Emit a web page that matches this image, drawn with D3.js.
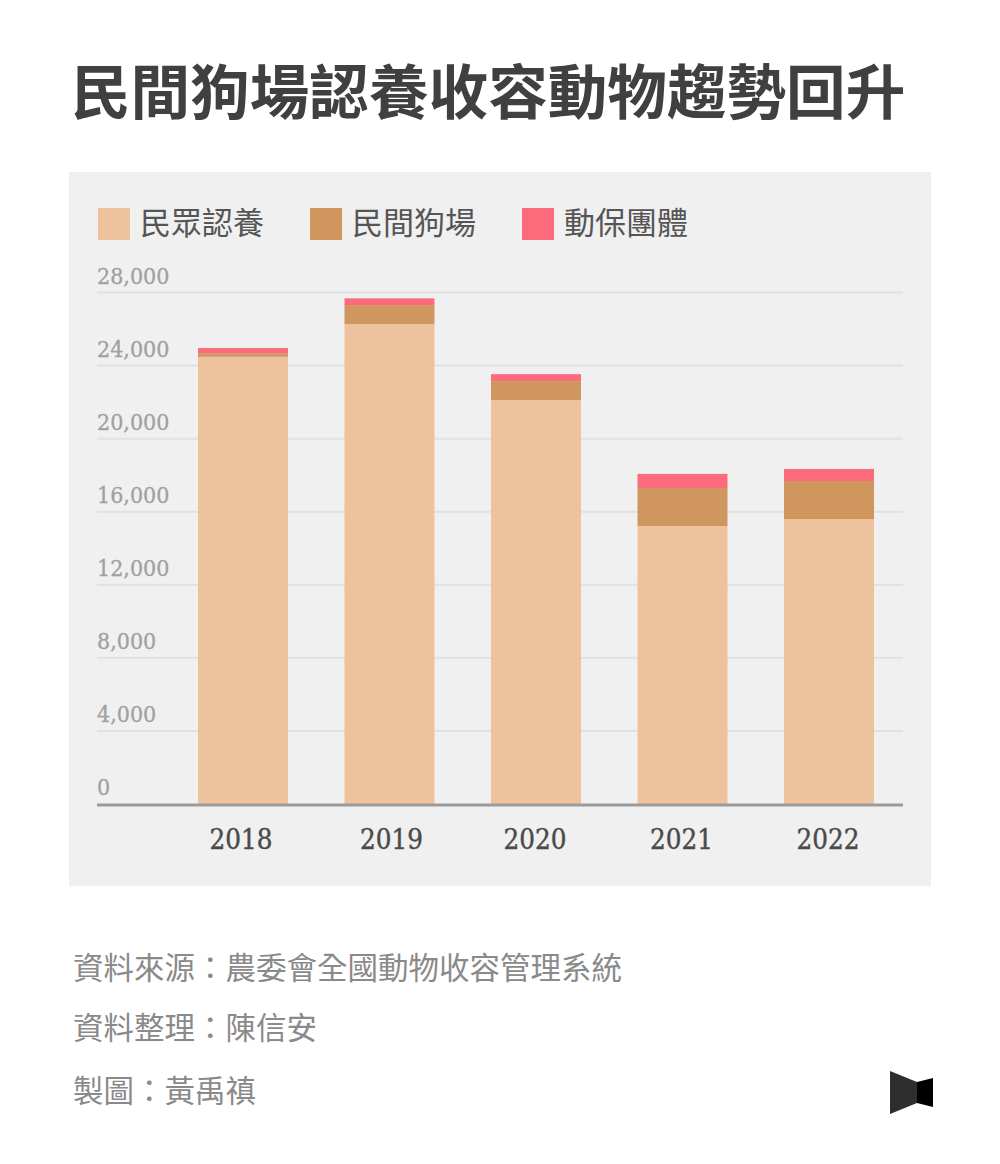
<!DOCTYPE html>
<html>
<head>
<meta charset="utf-8">
<script src="https://cdn.jsdelivr.net/npm/d3@7"></script>
<style>
  html, body { margin: 0; padding: 0; background: #fff; }
  svg { display: block; }
</style>
</head>
<body>
<svg id="chart"></svg>
<script>
const years = ["2018", "2019", "2020", "2021", "2022"];
const seriesNames = ["民眾認養", "民間狗場", "動保團體"];
const adopted = [24480, 26270, 22110, 15220, 15600];
const shelters = [190, 1040, 1040, 2080, 2080];
const ngos = [290, 370, 380, 770, 660];
const yTicks = [0, 4000, 8000, 12000, 16000, 20000, 24000, 28000];
const seriesColors = ["#edc29c", "#cf965d", "#fb6b7b"];
const sources = ["資料來源：農委會全國動物收容管理系統", "資料整理：陳信安", "製圖：黃禹禛"];
const title = "民間狗場認養收容動物趨勢回升";

const width = 1000, height = 1164;
const cjk = "'Noto Sans CJK TC', sans-serif";
const slab = "'DejaVu Serif Condensed', 'DejaVu Serif', serif";

const svg = d3.select("#chart")
    .attr("width", width)
    .attr("height", height)
    .attr("viewBox", [0, 0, width, height]);

svg.append("rect").attr("width", width).attr("height", height).attr("fill", "#fff");

svg.append("text")
    .attr("x", 71).attr("y", 114)
    .attr("font-family", cjk).attr("font-size", 59.6).attr("font-weight", 700)
    .attr("fill", "#404040")
    .text(title);

// panel
svg.append("rect")
    .attr("x", 69).attr("y", 172).attr("width", 862).attr("height", 714)
    .attr("fill", "#f0f0f0");

// legend
const legendX = [98, 310, 522];
const legend = svg.append("g").selectAll("g")
    .data(seriesNames)
    .join("g")
    .attr("transform", (d, i) => `translate(${legendX[i]}, 208)`);
legend.append("rect")
    .attr("width", 32).attr("height", 32)
    .attr("fill", (d, i) => seriesColors[i]);
legend.append("text")
    .attr("x", 42).attr("y", 26)
    .attr("font-family", cjk).attr("font-size", 31)
    .attr("fill", "#555")
    .text(d => d);

// scales
const y = d3.scaleLinear().domain([0, 28000]).range([804, 292.5]);
const x = d3.scaleBand().domain(years).range([198, 874]).paddingInner(0.386).paddingOuter(0);

// grid lines + y labels
const grid = svg.append("g").selectAll("g")
    .data(yTicks)
    .join("g")
    .attr("transform", d => `translate(0, ${y(d)})`);
grid.filter(d => d !== 0).append("line")
    .attr("x1", 97).attr("x2", 903)
    .attr("stroke", "#e1e1e1").attr("stroke-width", 2);
grid.append("text")
    .attr("x", 97).attr("y", -9)
    .attr("font-family", slab).attr("font-size", 23)
    .attr("fill", "#a0a0a0").attr("stroke", "#a0a0a0").attr("stroke-width", 0.3)
    .text(d => d3.format(",")(d));

// stacked bars
const rows = years.map((year, i) => ({year, a: adopted[i], b: shelters[i], c: ngos[i]}));
const stack = d3.stack().keys(["a", "b", "c"])(rows);

svg.append("g").selectAll("g")
    .data(stack)
    .join("g")
    .attr("fill", (d, i) => seriesColors[i])
    .selectAll("rect")
    .data(d => d)
    .join("rect")
    .attr("x", d => x(d.data.year))
    .attr("y", d => y(d[1]))
    .attr("width", x.bandwidth())
    .attr("height", d => y(d[0]) - y(d[1]));

// baseline
svg.append("line")
    .attr("x1", 97).attr("x2", 903)
    .attr("y1", y(0) + 1).attr("y2", y(0) + 1)
    .attr("stroke", "#9b9b9b").attr("stroke-width", 3);

// year labels, nudged like the original artwork
const labelShift = [-2, 2, -1, -1, -1];
svg.append("g").selectAll("text")
    .data(years)
    .join("text")
    .attr("x", (d, i) => x(d) + x.bandwidth() / 2 + labelShift[i])
    .attr("y", 849)
    .attr("text-anchor", "middle")
    .attr("font-family", slab).attr("font-size", 27.5)
    .attr("fill", "#4a4a4a").attr("stroke", "#4a4a4a").attr("stroke-width", 0.4)
    .text(d => d);

// footer
const footerY = [979, 1039, 1102];
svg.append("g").selectAll("text")
    .data(sources)
    .join("text")
    .attr("x", 73)
    .attr("y", (d, i) => footerY[i])
    .attr("font-family", cjk).attr("font-size", 30.5)
    .attr("fill", "#8a8a8a")
    .text(d => d);

// logo
svg.append("path").attr("d", "M890,1071L917,1082L917,1103L890,1114Z").attr("fill", "#2e2e2e");
svg.append("path").attr("d", "M917,1082L933,1078L933,1107L917,1103Z").attr("fill", "#000");
</script>
</body>
</html>
